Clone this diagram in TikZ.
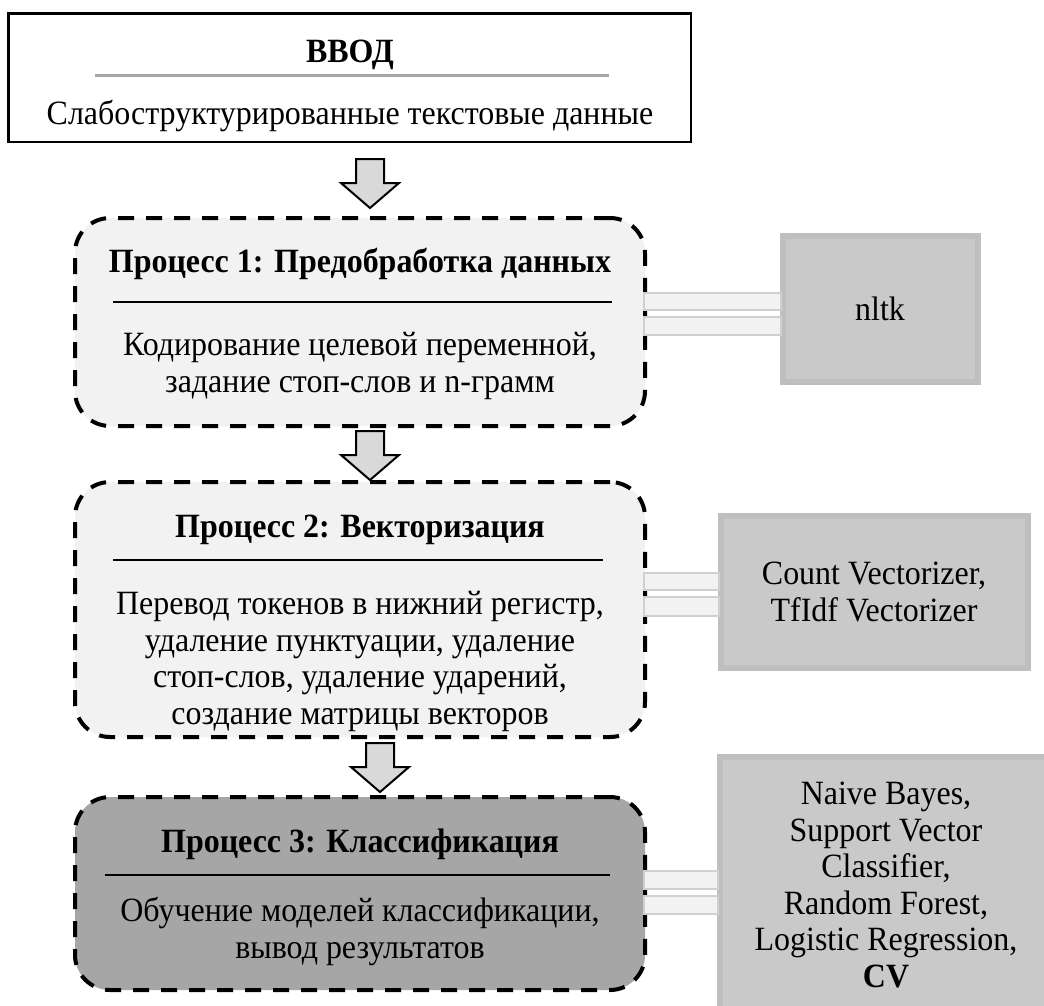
\documentclass[tikz,border=0pt]{standalone}
\usepackage{fontspec}
\setmainfont{Liberation Serif}[FakeStretch=0.94]
\usetikzlibrary{calc}
\definecolor{procfill}{HTML}{F2F2F2}
\definecolor{procdark}{HTML}{A6A6A6}
\definecolor{toolfill}{HTML}{C9C9C9}
\definecolor{toolline}{HTML}{BFBFBF}
\definecolor{arrowfill}{HTML}{D9D9D9}
\definecolor{barline}{HTML}{D0D0D0}
\definecolor{rulegray}{HTML}{A6A6A6}
\begin{document}
\begin{tikzpicture}[x=1pt,y=-1pt,
  every node/.style={inner sep=0pt,outer sep=0pt},
  inbox/.style={draw=black,line width=2.5pt,fill=white},
  procbox/.style={draw=black,line width=4pt,dash pattern=on 16pt off 12pt,
    rounded corners=35pt,fill=procfill},
  toolbox/.style={draw=toolline,line width=6pt,fill=toolfill},
  bar/.style={draw=barline,line width=2pt,fill=procfill},
  txt/.style={font=\fontsize{34}{36.5}\selectfont,align=center,anchor=base},
  headtxt/.style={txt,font=\fontsize{34}{36.5}\selectfont\bfseries},
  blockdown/.pic={
    \draw[line width=2pt,fill=arrowfill,line join=miter]
      (-14,0) -- (14,0) -- (14,24) -- (29,24) -- (0,49) -- (-29,24) -- (-14,24) -- cycle;
  }
]
\clip (0,0) rectangle (1044,1005);

% input block
\node[inbox,minimum width=682.5pt,minimum height=128.5pt] (in) at (349.5,77.5) {};
\node[headtxt] (intitle) at (350,62) {ВВОД};
\draw[rulegray,line width=2.5pt] (95,75.5) -- (609,75.5);
\node[txt] (intext) at (350,124) {Слабоструктурированные текстовые данные};

% process blocks
\node[procbox,minimum width=570pt,minimum height=208pt] (p1) at (360,322) {};
\node[procbox,minimum width=570pt,minimum height=255pt] (p2) at (360,609.5) {};
\node[procbox,fill=procdark,minimum width=570pt,minimum height=193pt] (p3) at (360,893.5) {};

% tool blocks
\node[toolbox,minimum width=195pt,minimum height=146pt] (nltk) at (880.5,309) {};
\node[toolbox,minimum width=307pt,minimum height=152pt] (vect) at (874.5,592) {};
\node[toolbox,minimum width=332pt,minimum height=258pt] (clf) at (886,886) {};

% double bars linking process blocks to tools
\draw[bar] ($(p1.east |- nltk.west)+(-1,-16)$) rectangle ($(nltk.west)+(-2,1)$);
\draw[bar] ($(p1.east |- nltk.west)+(-1,8)$) rectangle ($(nltk.west)+(-2,26)$);
\draw[bar] ($(p2.east |- vect.west)+(-1,-19)$) rectangle ($(vect.west)+(-2,-2)$);
\draw[bar] ($(p2.east |- vect.west)+(-1,5)$) rectangle ($(vect.west)+(-2,24)$);
\draw[bar] ($(p3.east |- clf.west)+(-1,-15)$) rectangle ($(clf.west)+(-2,3)$);
\draw[bar] ($(p3.east |- clf.west)+(-1,10)$) rectangle ($(clf.west)+(-2,28)$);

% tool texts (base anchor = baseline of the last line)
\node[txt] (nltktxt) at (880,320) {nltk};
\node[txt] (vecttxt) at (874,621) {Count Vectorizer,\\TfIdf Vectorizer};
\node[txt] (clftxt) at (886,987) {Naive Bayes,\\Support Vector\\Classifier,\\Random Forest,\\Logistic Regression,\\\textbf{CV}};

% process 1
\node[headtxt] (t1) at (360,272) {Процесс 1: Предобработка данных};
\draw[line width=2pt] (113,302) -- (612,302);
\node[txt] (b1) at (360,392) {Кодирование целевой переменной,\\задание стоп-слов и n-грамм};

% process 2
\node[headtxt] (t2) at (360,537) {Процесс 2: Векторизация};
\draw[line width=2pt] (113,560) -- (603,560);
\node[txt] (b2) at (360,724) {Перевод токенов в нижний регистр,\\удаление пунктуации, удаление\\стоп-слов, удаление ударений,\\создание матрицы векторов};

% process 3
\node[headtxt] (t3) at (360,852) {Процесс 3: Классификация};
\draw[line width=2pt] (105,875) -- (610,875);
\node[txt] (b3) at (360,958) {Обучение моделей классификации,\\вывод результатов};

% flow arrows
\pic at (370,159) {blockdown};
\pic at (370,431) {blockdown};
\pic at (380,743) {blockdown};
\end{tikzpicture}
\end{document}
